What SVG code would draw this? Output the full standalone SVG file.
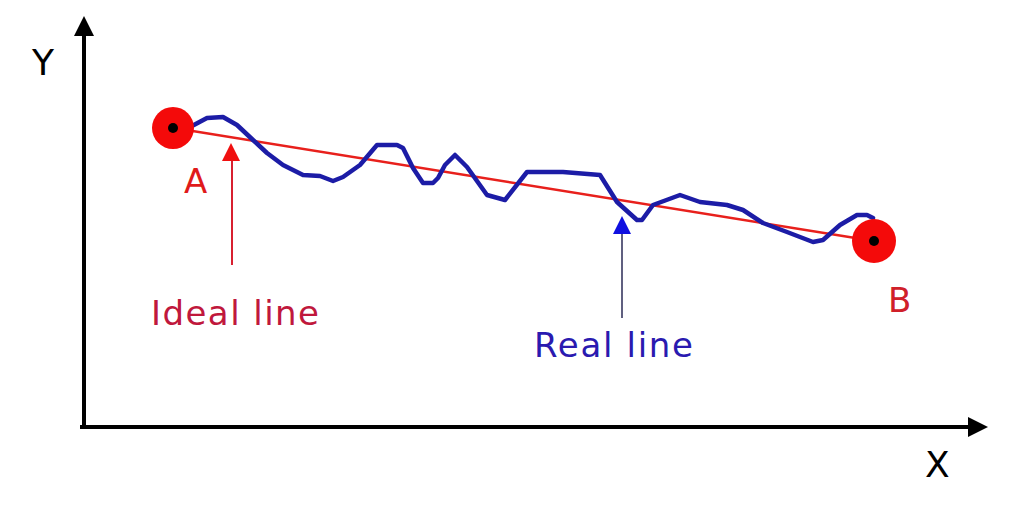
<svg xmlns="http://www.w3.org/2000/svg" width="1024" height="507" viewBox="0 0 1024 507">
<defs>
<style>
.lbl{font-family:"DejaVu Sans","Verdana",sans-serif;font-size:34px}
.axl{font-family:"DejaVu Sans",sans-serif;font-size:36px;fill:#000}
.ax{stroke:#000;stroke-width:4;fill:none}
</style>
<marker id="ah" viewBox="0 0 10 10" refX="10" refY="5" markerWidth="5" markerHeight="5" orient="auto" markerUnits="strokeWidth"><path d="M0,0 L10,5 L0,10 z" fill="#000"/></marker>
</defs>
<rect width="1024" height="507" fill="#fff"/>
<g id="axes">
<line class="ax" x1="84" y1="428" x2="84" y2="34"/>
<polygon points="84,16 74,36 94,36" fill="#000"/>
<line class="ax" x1="80" y1="427" x2="970" y2="427"/>
<polygon points="988,427 968,417 968,437" fill="#000"/>
<text class="axl" x="32" y="75">Y</text>
<text class="axl" x="925" y="477">X</text>
</g>
<g id="ideal-line">
<line x1="174" y1="128" x2="874" y2="241" stroke="#e8201c" stroke-width="2.5"/>
</g>
<g id="real-line">
<polyline fill="none" stroke="#1c1ca6" stroke-width="4.5" stroke-linejoin="round" stroke-linecap="round" points="192,126 207,118 223,117 237,125 253,140 267,153 283,165 303,175 320,176 333,181 343,177 360,165 377,145 397,145 403,148 413,168 423,183 433,183 438,178 445,165 455,155 467,167 487,195 505,200 527,172 563,172 600,175 617,202 637,220 642,220 653,205 680,195 700,202 727,205 743,210 763,223 787,232 813,242 823,240 840,225 857,215 867,215 873,218"/>
</g>
<g id="pointA">
<circle cx="173" cy="128" r="21" fill="#f40a0a"/>
<circle cx="173" cy="128" r="5" fill="#000"/>
<text class="lbl" x="184" y="193" fill="#e01a1a">A</text>
</g>
<g id="pointB">
<circle cx="874" cy="241" r="22" fill="#f40a0a"/>
<circle cx="874" cy="241" r="5" fill="#000"/>
<text class="lbl" x="888" y="312" fill="#d0202a">B</text>
</g>
<g id="connectors">
<line x1="232" y1="265" x2="232" y2="158" stroke="#d82030" stroke-width="2"/>
<polygon points="231,143 222,161 240,161" fill="#f01010"/>
<line x1="622" y1="318" x2="622" y2="232" stroke="#606080" stroke-width="2"/>
<polygon points="622,216 613,234 631,234" fill="#1010e0"/>
</g>
<g id="labels">
<text class="lbl" x="151" y="325" fill="#c0183c" textLength="168">Ideal line</text>
<text class="lbl" x="534" y="357" fill="#2a1ab0" textLength="159">Real line</text>
</g>
</svg>
